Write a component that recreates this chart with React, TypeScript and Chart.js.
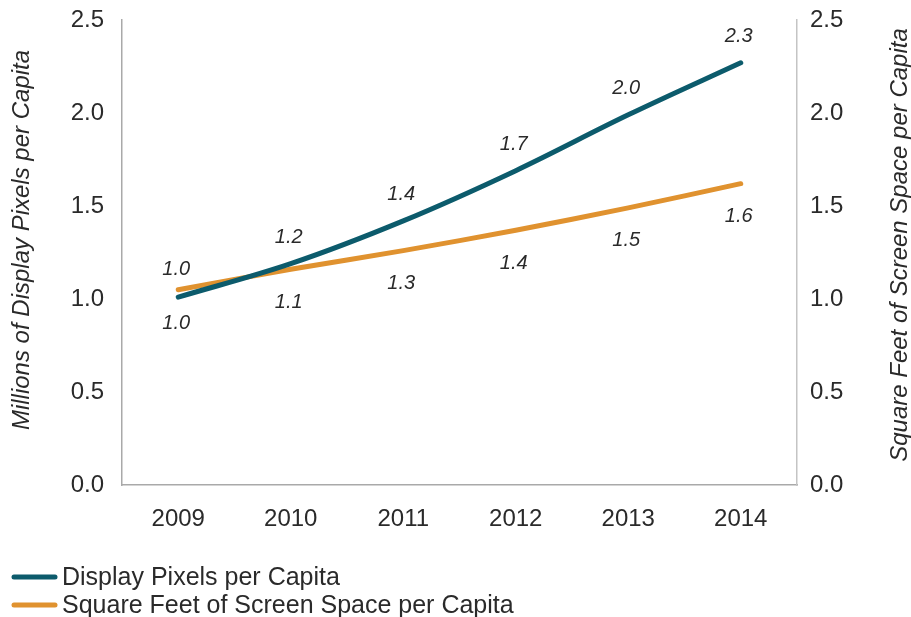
import React, { useEffect, useRef } from "react";
import { Chart, registerables } from "chart.js";
Chart.register(...registerables);

const years = ["2009", "2010", "2011", "2012", "2013", "2014"];
const pixelsPerCapita = [1.01, 1.19, 1.42, 1.69, 1.99, 2.27];
const screenFeetPerCapita = [1.05, 1.16, 1.26, 1.37, 1.49, 1.62];
const pixelLabels = ["1.0", "1.2", "1.4", "1.7", "2.0", "2.3"];
const pixelLabelSide = ["below", "above", "above", "above", "above", "above"];
const feetLabels = ["1.0", "1.1", "1.3", "1.4", "1.5", "1.6"];
const feetLabelSide = ["above", "below", "below", "below", "below", "below"];
const yTicks = [0, 0.5, 1.0, 1.5, 2.0, 2.5];
const leftTitle = "Millions of Display Pixels per Capita";
const rightTitle = "Square Feet of Screen Space per Capita";

const TEAL = "#0c5b6c";
const ORANGE = "#e0922f";
const TEXT = "#2a2a2a";
const FONT = "'Liberation Sans', Arial, sans-serif";

const labelPlugin = {
  id: "valueLabels",
  afterDatasetsDraw(chart: any) {
    const ctx = chart.ctx;
    const sets = [
      { labels: pixelLabels, sides: pixelLabelSide, idx: 0, up: -26, down: 26 },
      { labels: feetLabels, sides: feetLabelSide, idx: 1, up: -20, down: 33 },
    ];
    ctx.save();
    ctx.font = "italic 20px " + FONT;
    ctx.fillStyle = TEXT;
    ctx.textAlign = "center";
    ctx.textBaseline = "middle";
    sets.forEach((s) => {
      const meta = chart.getDatasetMeta(s.idx);
      meta.data.forEach((pt: any, i: number) => {
        const dy = s.sides[i] === "above" ? s.up : s.down;
        ctx.fillText(s.labels[i], pt.x - 2, pt.y + dy);
      });
    });
    ctx.restore();
  },
};

const extrasPlugin = {
  id: "extras",
  afterDraw(chart: any) {
    const ctx = chart.ctx;
    // axis titles, both reading bottom-to-top
    const titles = [
      { text: leftTitle, x: 22, y: 240 },
      { text: rightTitle, x: 900, y: 245 },
    ];
    titles.forEach((t) => {
      ctx.save();
      ctx.font = "italic 24px " + FONT;
      ctx.fillStyle = TEXT;
      ctx.textAlign = "center";
      ctx.textBaseline = "middle";
      ctx.translate(t.x, t.y);
      ctx.rotate(-Math.PI / 2);
      ctx.fillText(t.text, 0, 0);
      ctx.restore();
    });

    ctx.save();
    ctx.font = "25px " + FONT;
    ctx.textBaseline = "middle";
    ctx.textAlign = "left";
    chart.data.datasets.forEach((ds: any, i: number) => {
      const y = 577 + i * 28;
      ctx.strokeStyle = ds.borderColor;
      ctx.lineWidth = 5;
      ctx.lineCap = "round";
      ctx.beginPath();
      ctx.moveTo(14, y);
      ctx.lineTo(55, y);
      ctx.stroke();
      ctx.fillStyle = TEXT;
      ctx.fillText(ds.label, 62, y + 1);
    });
    ctx.restore();
  },
};

export default function App() {
  const ref = useRef<HTMLCanvasElement>(null);
  useEffect(() => {
    if (!ref.current) return;
    const tickFont = { family: FONT, size: 24 };
    const noPad = (scale: any) => {
      scale.paddingTop = 0;
      scale.paddingBottom = 0;
    };
    const chart = new Chart(ref.current, {
      type: "line",
      data: {
        labels: years,
        datasets: [
          {
            label: "Display Pixels per Capita",
            data: pixelsPerCapita,
            borderColor: TEAL,
            backgroundColor: TEAL,
            borderWidth: 5,
            pointRadius: 0,
            tension: 0.35,
            borderCapStyle: "round",
            yAxisID: "y",
          },
          {
            label: "Square Feet of Screen Space per Capita",
            data: screenFeetPerCapita,
            borderColor: ORANGE,
            backgroundColor: ORANGE,
            borderWidth: 5,
            pointRadius: 0,
            tension: 0.35,
            borderCapStyle: "round",
            yAxisID: "y1",
          },
        ],
      },
      options: {
        animation: false,
        responsive: false,
        maintainAspectRatio: false,
        layout: { padding: { top: 20, left: 0, right: 0, bottom: 0 } },
        plugins: { legend: { display: false }, tooltip: { enabled: false } },
        scales: {
          x: {
            offset: true,
            grid: { display: false, drawTicks: false },
            border: { display: true, color: "#a9a9a9", width: 1.5 },
            ticks: { color: TEXT, font: tickFont, padding: 20 },
            afterFit(scale: any) {
              scale.height = 132;
              scale.paddingLeft = 0;
              scale.paddingRight = 0;
            },
          },
          y: {
            position: "left",
            min: 0,
            max: 2.5,
            afterBuildTicks(scale: any) {
              scale.ticks = yTicks.map((v) => ({ value: v }));
            },
            grid: { display: false, drawTicks: false },
            border: { display: true, color: "#a9a9a9", width: 1.5 },
            ticks: {
              color: TEXT,
              font: tickFont,
              padding: 18,
              callback: (v: any) => Number(v).toFixed(1),
            },
            afterFit(scale: any) {
              scale.width = 122;
              noPad(scale);
            },
          },
          y1: {
            position: "right",
            min: 0,
            max: 2.5,
            afterBuildTicks(scale: any) {
              scale.ticks = yTicks.map((v) => ({ value: v }));
            },
            grid: { display: false, drawTicks: false },
            border: { display: true, color: "#c4c4c4", width: 1.5 },
            ticks: {
              color: TEXT,
              font: tickFont,
              padding: 13,
              callback: (v: any) => Number(v).toFixed(1),
            },
            afterFit(scale: any) {
              scale.width = 114;
              noPad(scale);
            },
          },
        },
      },
      plugins: [labelPlugin, extrasPlugin],
    });
    return () => chart.destroy();
  }, []);
  return (
    <div style={{ position: "fixed", left: 0, top: 0, width: 911, height: 617, background: "#fff" }}>
      <canvas ref={ref} width={911} height={617} style={{ width: 911, height: 617 }} />
    </div>
  );
}
